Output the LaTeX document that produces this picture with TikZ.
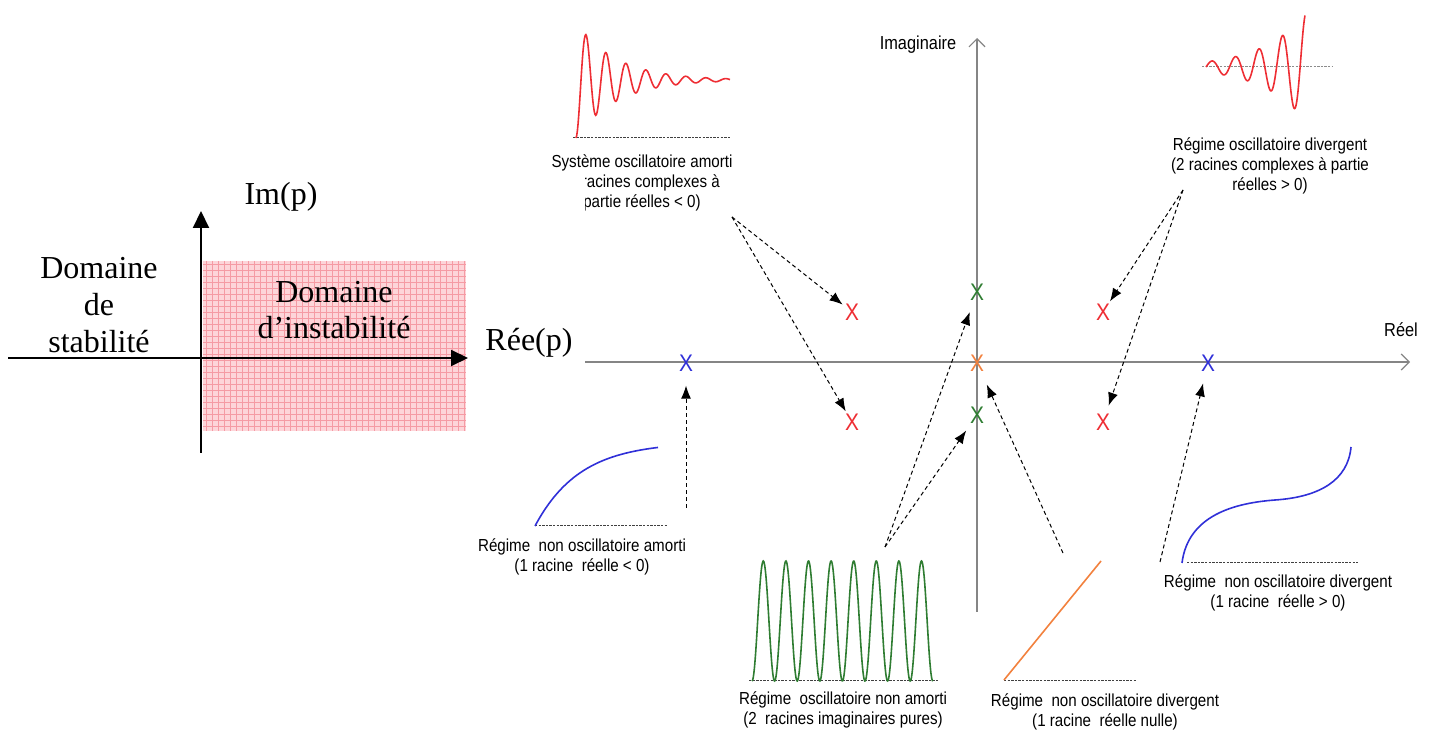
\documentclass[tikz,border=0pt]{standalone}
\usepackage{fontspec}
\setmainfont{Liberation Serif}
\newfontfamily\capfont[FakeStretch=0.87]{Liberation Sans}
\usepackage{tikz}
\usetikzlibrary{
  arrows.meta,
  positioning,
  calc
}
\definecolor{plRed}{HTML}{EE2E34}
\definecolor{plGreen}{HTML}{2F7D32}
\definecolor{plOrange}{HTML}{F2813E}
\definecolor{plBlue}{HTML}{3030D8}
\definecolor{plAxis}{HTML}{858585}
\definecolor{plPink}{HTML}{FDD5D9}
\definecolor{plGrid}{HTML}{F59BA4}
\tikzset{
  serif/.style={font=\fontsize{16}{18.3}\selectfont, align=center, inner sep=0pt},
  caption/.style={font=\capfont\fontsize{8.7}{10}\selectfont, align=center, inner sep=0pt},
  pole/.style={font=\capfont\fontsize{12}{12}\selectfont, inner sep=1pt},
  bigaxis/.style={line width=1pt, -{Triangle[length=8.5pt, width=8pt]}},
  planeaxis/.style={line width=0.6pt, plAxis, -{Straight Barb[length=4pt, width=8pt]}},
  pointer/.style={-{Latex[length=6.5pt, width=5pt]}, line width=0.5pt, dash pattern=on 2pt off 1.5pt},
  trace/.style={line width=0.8pt},
  base/.style={line width=0.5pt, black!75, dash pattern=on 1.2pt off 0.6pt}
}
\begin{document}
\begin{tikzpicture}[x=0.5pt, y=-0.5pt]
  \useasboundingbox (0,0) rectangle (1430,731);
  % stable / unstable half-planes
  \fill[plPink] (203,261) rectangle (466,431);
  \foreach \gx in {206,212,...,465} \draw[plGrid, line width=0.3pt] (\gx,261) -- (\gx,431);
  \foreach \gy in {264,270,...,431} \draw[plGrid, line width=0.3pt] (203,\gy) -- (466,\gy);
  \draw[bigaxis] (8,358) -- (468,358);
  \draw[bigaxis] (201,453) -- (201,211);
  \node[serif] (im) at (281,197) {Im(p)};
  \node[serif] (re) at (529,343) {Rée(p)};
  \node[serif] (stab) at (99,305) {Domaine\\de\\stabilité};
  \node[serif] (instab) at (334,310) {Domaine\\d’instabilité};

  % complex plane
  \draw[planeaxis] (585,362) -- (1410,362);
  \draw[planeaxis] (977,612) -- (977,38);
  \node[caption, font=\capfont\fontsize{9.4}{10}\selectfont] (imag) at (918,45) {Imaginaire};
  \node[caption, font=\capfont\fontsize{9.4}{10}\selectfont] (reel) at (1401,330) {Réel};

  \node[pole, plRed] (pUL) at (852,312) {X};
  \node[pole, plRed] (pLL) at (852,422) {X};
  \node[pole, plRed] (pUR) at (1103,312) {X};
  \node[pole, plRed] (pLR) at (1103,422) {X};
  \node[pole, plGreen] (pIm1) at (977,292) {X};
  \node[pole, plGreen] (pIm2) at (977,415) {X};
  \node[pole, plOrange] (pO) at (977,363) {X};
  \node[pole, plBlue] (pNeg) at (686,363) {X};
  \node[pole, plBlue] (pPos) at (1208,363) {X};

  % damped oscillation
  \draw[base] (573,138) -- (730,138);
  \draw[trace, plRed] plot[domain=0:154, samples=220] ({576+\x}, {138-58*(1-exp(-0.025*\x)*cos(18*\x))});
  \begin{scope}
    \clip (540,150) -- (760,150) -- (760,216) -- (585,216) -- (585,172) -- (540,172) -- cycle;
    \node[caption] (capDamp) at (642,183) {Système oscillatoire amorti\\(2 racines complexes à\\partie réelles < 0)};
  \end{scope}
  \coordinate (sDamp) at (732,217);

  % divergent oscillation
  \draw[base, black!45] (1202,67) -- (1333,67);
  \draw[trace, plRed] plot[domain=0:99, samples=220] ({1206+\x}, {67-6*exp(0.0235*(\x-6))*sin(15.3*\x)});
  \node[caption] (capDiv) at (1270,166) {Régime oscillatoire divergent\\(2 racines complexes à partie\\réelles > 0)};
  \coordinate (sDiv) at (1183,190);

  % first order, damped
  \draw[base] (535,526) -- (667,526);
  \draw[trace, plBlue] plot[domain=0:123, samples=120] ({535+\x}, {526-84*(1-exp(-\x/45))});
  \node[caption] (capNeg) at (582,557) {Régime\ \ non oscillatoire amorti\\(1 racine\ \ réelle < 0)};
  \coordinate (sNeg) at (686,508);

  % pure oscillation
  \draw[base] (749,681) -- (938,681);
  \draw[trace, plGreen] plot[domain=0:180.8, samples=400] ({752+\x}, {681-60*(1-cos(15.929*\x))});
  \node[caption] (capPure) at (843,710) {Régime\ \ oscillatoire non amorti\\(2\ \ racines imaginaires pures)};
  \coordinate (sPure) at (885,547);

  % ramp
  \draw[base] (1004,681) -- (1137,681);
  \draw[trace, plOrange] (1004,680) -- (1101,561);
  \node[caption] (capNull) at (1105,712) {Régime\ \ non oscillatoire divergent\\(1 racine\ \ réelle nulle)};
  \coordinate (sNull) at (1063,553);

  % first order, divergent
  \draw[base] (1187,563) -- (1358,563);
  \draw[trace, plBlue] (1182,563) .. controls (1188,515) and (1235,503) .. (1275,500)
    .. controls (1320,497) and (1348,480) .. (1351,447);
  \node[caption] (capPos) at (1278,593) {Régime\ \ non oscillatoire divergent\\(1 racine\ \ réelle > 0)};
  \coordinate (sPos) at (1160,562);

  \draw[pointer] (sDamp) -- (pUL);
  \draw[pointer] (sDamp) -- (pLL);
  \draw[pointer] (sDiv) -- (pUR);
  \draw[pointer, shorten >=3pt] (sDiv) -- (pLR);
  \draw[pointer, shorten >=5pt] (sPure) -- (pIm1);
  \draw[pointer, shorten >=3pt] (sPure) -- (pIm2);
  \draw[pointer, shorten >=6pt] (sNull) -- (pO);
  \draw[pointer, shorten >=6pt] (sNeg) -- (pNeg);
  \draw[pointer, shorten >=5pt] (sPos) -- (pPos);
\end{tikzpicture}
\end{document}
